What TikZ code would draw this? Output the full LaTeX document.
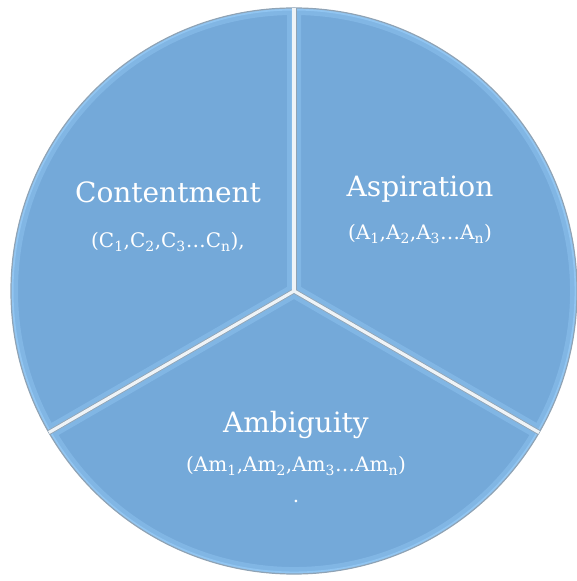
\documentclass[tikz,border=0pt]{standalone}
\usepackage{fontspec}
\setmainfont{DejaVu Serif}
\usetikzlibrary{positioning}
\definecolor{pieblue}{HTML}{74A9D9}
\definecolor{pielight}{HTML}{9CCFFA}
\definecolor{piedark}{HTML}{6690B8}
\definecolor{pierim}{HTML}{8FA3B5}
\definecolor{piegap}{HTML}{EEF3F7}

\begin{document}
\begin{tikzpicture}[x=1pt, y=1pt,
    sector/.style={fill=pieblue},
    bevel/.style={draw=pielight, line width=14pt, opacity=0.35, line join=round},
    edge/.style={draw=pielight, line width=5pt, opacity=0.6, line join=round},
    gap/.style={draw=piegap, line width=3.2pt},
    gapshade/.style={draw=pierim, line width=5pt},
    title/.style={anchor=base, text=white, font=\fontsize{28}{34}\selectfont},
    sub/.style={anchor=base, text=white, font=\fontsize{20}{24}\selectfont}
  ]
  \useasboundingbox (0,0) rectangle (576,581);
  \coordinate (O) at (294,290);

  % the three sectors
  \foreach \a/\b in {90/210, 210/330, 330/450} {
    \begin{scope}
      \clip (O) -- ++(\a:283) arc[start angle=\a, end angle=\b, radius=283] -- cycle;
      \fill[sector] (O) circle[radius=283];
      \draw[bevel] (O) -- ++(\a:283) arc[start angle=\a, end angle=\b, radius=283] -- cycle;
      \draw[edge] (O) -- ++(\a:283) arc[start angle=\a, end angle=\b, radius=283] -- cycle;
    \end{scope}
  }
  \draw[pierim, line width=1.2pt] (O) circle[radius=283];

  % separators
  \path (O) ++(90:283) coordinate (rimT);
  \path (O) ++(210:283) coordinate (rimL);
  \path (O) ++(330:283) coordinate (rimR);
  \foreach \r in {rimT, rimL, rimR} {
    \draw[gapshade] (O) -- (\r);
  }
  \foreach \r in {rimT, rimL, rimR} {
    \draw[gap] (O) -- (\r);
  }

  % labels
  \node[title] (cont) at (168,378) {Contentment};
  \node[sub] (contsub) at (168,333) {(C\textsubscript{1},C\textsubscript{2},C\textsubscript{3}\ldots C\textsubscript{n}),};
  \node[title] (asp) at (420,384) {Aspiration};
  \node[sub] (aspsub) at (420,341) {(A\textsubscript{1},A\textsubscript{2},A\textsubscript{3}\ldots A\textsubscript{n})};
  \node[title] (amb) at (296,148) {Ambiguity};
  \node[sub] (ambsub) at (296,109) {(Am\textsubscript{1},Am\textsubscript{2},Am\textsubscript{3}\ldots Am\textsubscript{n})};
  \node[sub] (ambdot) at (296,78) {.};
\end{tikzpicture}
\end{document}
